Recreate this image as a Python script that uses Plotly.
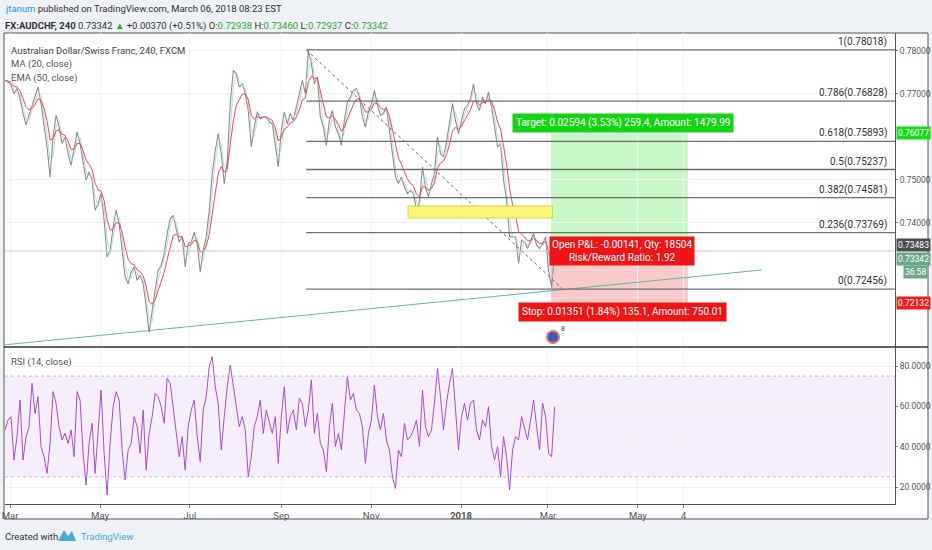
import pandas as pd
import plotly.graph_objects as go

# ---- data (approx. one value every ~2 days) ----
bar_start = "2017-02-25 12:00"
bar_end = "2018-03-05 12:00"

close = [
    0.7731, 0.7727, 0.7720, 0.7700, 0.7712, 0.7689, 0.7654, 0.7627, 0.7650, 0.7673,
    0.7692, 0.7716, 0.7677, 0.7630, 0.7576, 0.7506, 0.7599, 0.7650, 0.7623, 0.7584,
    0.7599, 0.7561, 0.7533, 0.7572, 0.7611, 0.7584, 0.7537, 0.7499, 0.7518, 0.7499,
    0.7429, 0.7444, 0.7468, 0.7406, 0.7320, 0.7336, 0.7390, 0.7429, 0.7398, 0.7336,
    0.7274, 0.7258, 0.7285, 0.7297, 0.7266, 0.7278, 0.7258, 0.7204, 0.7145, 0.7196,
    0.7243, 0.7289, 0.7301, 0.7328, 0.7375, 0.7409, 0.7417, 0.7382, 0.7355, 0.7367,
    0.7297, 0.7351, 0.7355, 0.7378, 0.7351, 0.7285, 0.7336, 0.7367, 0.7429, 0.7514,
    0.7568, 0.7607, 0.7561, 0.7491, 0.7545, 0.7677, 0.7754, 0.7747, 0.7716, 0.7723,
    0.7700, 0.7661, 0.7576, 0.7623, 0.7658, 0.7642, 0.7646, 0.7646, 0.7634, 0.7630,
    0.7584, 0.7530, 0.7615, 0.7658, 0.7630, 0.7654, 0.7638, 0.7669, 0.7696, 0.7731,
    0.7700, 0.7800, 0.7770, 0.7723, 0.7739, 0.7646, 0.7623, 0.7580, 0.7638, 0.7661,
    0.7623, 0.7607, 0.7580, 0.7638, 0.7681, 0.7692, 0.7708, 0.7712, 0.7692, 0.7646,
    0.7623, 0.7658, 0.7677, 0.7708, 0.7673, 0.7650, 0.7654, 0.7669, 0.7615, 0.7553,
    0.7506, 0.7491, 0.7506, 0.7483, 0.7468, 0.7475, 0.7468, 0.7430, 0.7448, 0.7530,
    0.7483, 0.7460, 0.7491, 0.7514, 0.7599, 0.7561, 0.7553, 0.7588, 0.7630, 0.7677,
    0.7638, 0.7607, 0.7638, 0.7665, 0.7673, 0.7689, 0.7723, 0.7677, 0.7661, 0.7692,
    0.7677, 0.7704, 0.7669, 0.7627, 0.7576, 0.7584, 0.7499, 0.7452, 0.7367, 0.7367,
    0.7367, 0.7305, 0.7359, 0.7355, 0.7340, 0.7359, 0.7375, 0.7347, 0.7340, 0.7351,
    0.7367, 0.7289, 0.7250, 0.7334,
]

rsi = [
    48.3, 53.2, 54.9, 33.4, 45.0, 63.1, 33.4, 45.0, 49.9, 71.4,
    56.5, 64.8, 40.0, 35.0, 26.8, 41.6, 67.3, 61.5, 49.9, 43.3,
    46.6, 41.6, 48.3, 35.0, 67.3, 63.1, 36.7, 21.0, 41.6, 51.6,
    26.8, 46.6, 68.1, 36.7, 16.0, 41.6, 59.8, 67.3, 63.1, 38.3,
    23.5, 38.3, 41.6, 54.9, 49.9, 36.7, 58.2, 28.4, 46.6, 54.9,
    66.4, 64.8, 59.8, 51.6, 73.9, 71.4, 59.8, 46.6, 35.0, 45.0,
    28.4, 49.9, 58.2, 63.1, 45.0, 32.6, 58.2, 64.8, 79.7, 84.6,
    69.7, 61.5, 38.3, 54.9, 69.7, 80.5, 69.7, 58.2, 49.9, 54.9,
    48.3, 25.1, 35.0, 49.9, 54.9, 63.1, 46.6, 58.2, 51.6, 46.6,
    54.9, 31.7, 54.9, 69.7, 46.6, 54.9, 58.2, 48.3, 64.0, 61.5,
    49.9, 58.2, 73.1, 46.6, 56.5, 41.6, 38.3, 27.6, 49.9, 61.5,
    40.0, 46.6, 38.3, 54.9, 74.7, 63.1, 66.4, 58.2, 56.5, 49.9,
    31.7, 46.6, 53.2, 70.6, 54.9, 48.3, 56.5, 43.3, 38.3, 25.1,
    19.3, 38.3, 35.0, 51.6, 43.3, 45.0, 48.3, 53.2, 40.0, 68.1,
    49.9, 45.0, 48.3, 61.5, 78.8, 64.8, 48.3, 61.5, 71.4, 78.8,
    56.5, 38.3, 54.9, 61.5, 53.2, 61.5, 63.1, 48.3, 43.3, 53.2,
    49.9, 59.8, 40.0, 33.4, 40.0, 25.1, 45.0, 35.0, 18.5, 38.3,
    45.0, 43.3, 54.9, 48.3, 43.3, 53.2, 63.1, 49.9, 38.3, 61.5,
    54.9, 36.7, 35.0, 59.8,
]

last_close = 0.73342

fib_ratios = ["1", "0.786", "0.618", "0.5", "0.382", "0.236", "0"]
fib_levels = [0.78018, 0.76828, 0.75893, 0.75237, 0.74581, 0.73769, 0.72456]
fib_start = "2017-09-18"
fib_diag_end = "2018-03-11"

trend_dates = ["2017-02-25 12:00", "2018-07-24"]
trend_prices = [0.7116, 0.7290]

zone_dates = ["2017-11-26", "2018-03-04"]
zone_prices = [0.7411, 0.7439]

entry_price = 0.73483
target_price = 0.76077
stop_price = 0.72132
position_dates = ["2018-03-03", "2018-06-04"]

tick_dates = ["2017-03-01", "2017-05-01", "2017-07-01", "2017-09-01", "2017-11-01",
              "2018-01-01", "2018-03-01", "2018-05-01", "2018-06-01"]
tick_text = ["Mar", "May", "Jul", "Sep", "Nov", "<b>2018</b>", "Mar", "May", "4"]

price_ticks = [0.74, 0.75, 0.77, 0.78]
rsi_ticks = [20, 40, 60, 80]

x_range = ["2017-02-25 12:00", "2018-10-22 12:00"]

FONT = "Roboto, Liberation Sans, sans-serif"

dates = pd.date_range(bar_start, bar_end, periods=len(close))
s = pd.Series(close, index=dates)
ma = s.rolling(2, min_periods=1).mean()
ema = s.ewm(span=5, adjust=False).mean()

W, H = 932, 550


def px(x):
    return x / W


def py(y):
    return 1 - y / H


fig = go.Figure()

# trend line
fig.add_trace(go.Scatter(x=trend_dates, y=trend_prices, mode="lines",
                         line=dict(color="#63b7a8", width=1), xaxis="x", yaxis="y"))
# price
fig.add_trace(go.Scatter(x=dates, y=close, mode="lines",
                         line=dict(color="#8d8d8d", width=1.1), xaxis="x", yaxis="y"))
fig.add_trace(go.Scatter(x=dates, y=ma, mode="lines",
                         line=dict(color="#a8d4dc", width=0.8), xaxis="x", yaxis="y"))
fig.add_trace(go.Scatter(x=dates, y=ema, mode="lines",
                         line=dict(color="#f04a4a", width=1), xaxis="x", yaxis="y"))
# fib diagonal
fig.add_trace(go.Scatter(x=[fib_start, fib_diag_end], y=[fib_levels[0], fib_levels[-1]],
                         mode="lines", line=dict(color="#666", width=1, dash="dot"),
                         xaxis="x", yaxis="y"))
# RSI
fig.add_trace(go.Scatter(x=dates, y=rsi, mode="lines",
                         line=dict(color="#a64fcf", width=1), xaxis="x2", yaxis="y2"))

shapes = []
# chart frame
shapes.append(dict(type="rect", xref="paper", yref="paper", x0=px(4), x1=px(928),
                   y0=py(519), y1=py(33), line=dict(color="#555", width=1),
                   fillcolor="white", layer="below"))
# position zones
shapes.append(dict(type="rect", xref="x", yref="y", x0=position_dates[0], x1=position_dates[1],
                   y0=entry_price, y1=target_price, fillcolor="#c8f7c8",
                   line=dict(width=0), layer="below"))
shapes.append(dict(type="rect", xref="x", yref="y", x0=position_dates[0], x1=position_dates[1],
                   y0=stop_price, y1=entry_price, fillcolor="#f9caca",
                   line=dict(width=0), layer="below"))
# support zone
shapes.append(dict(type="rect", xref="x", yref="y", x0=zone_dates[0], x1=zone_dates[1],
                   y0=zone_prices[0], y1=zone_prices[1], fillcolor="#f8f67a",
                   line=dict(color="#e0d040", width=1)))
# last price line
shapes.append(dict(type="line", xref="paper", yref="y", x0=px(5), x1=px(895),
                   y0=last_close, y1=last_close, line=dict(color="#c9c9c9", width=1)))
# fib levels
for lvl in fib_levels:
    shapes.append(dict(type="line", xref="x", yref="y", x0=fib_start, x1=x_range[1],
                       y0=lvl, y1=lvl, line=dict(color="#6e6e6e", width=1.3)))
# RSI band
shapes.append(dict(type="rect", xref="x2", yref="y2", x0=x_range[0], x1=x_range[1],
                   y0=25, y1=75, fillcolor="rgba(160,60,255,0.09)", line=dict(width=0),
                   layer="below"))
for lv in (25, 75):
    shapes.append(dict(type="line", xref="x2", yref="y2", x0=x_range[0], x1=x_range[1],
                       y0=lv, y1=lv, line=dict(color="#c6bcd0", width=1, dash="dot")))
# pane separator
shapes.append(dict(type="line", xref="paper", yref="paper", x0=px(4), x1=px(928),
                   y0=py(347), y1=py(347), line=dict(color="#333", width=1.5)))
# event marker
shapes.append(dict(type="circle", xref="paper", yref="paper", x0=px(547), x1=px(559),
                   y0=py(343), y1=py(331), fillcolor="#3b5bb8", line=dict(color="#e57373", width=2)))
# footer logo
shapes.append(dict(type="path", xref="paper", yref="paper",
                   path="M %f %f L %f %f L %f %f L %f %f L %f %f Z" % (
                       px(58), py(541), px(64), py(530), px(68), py(536),
                       px(72), py(531), px(76), py(541)),
                   fillcolor="#4aa8de", line=dict(width=0)))

ann = []


def text(x, y, t, size=10, color="#333", anchor="left", yanchor="middle", **kw):
    ann.append(dict(xref="paper", yref="paper", x=px(x), y=py(y), text=t, showarrow=False,
                    xanchor=anchor, yanchor=yanchor, font=dict(family=FONT, size=size, color=color), **kw))


G = "#2ea62e"
text(3, 9, "<span style='color:#2196f3'>jtanum</span> published on TradingView.com, March 06, 2018 08:23 EST", 9.5)
text(3, 26, "<b>FX:AUDCHF, 240</b> 0.73342 <span style='color:%s'>▲</span> +0.00370 (+0.51%%) "
     "O:<span style='color:%s'>0.72938</span> H:<span style='color:%s'>0.73460</span> "
     "L:<span style='color:%s'>0.72937</span> C:<span style='color:%s'>0.73342</span>" % (G, G, G, G, G), 9.5)
text(9, 50, "Australian Dollar/Swiss Franc, 240, FXCM", 9.5, "#444")
text(9, 64, "MA (20, close)", 9.5, "#555")
text(9, 78, "EMA (50, close)", 9.5, "#555")
text(9, 362, "RSI (14, close)", 9.5, "#555")
text(3, 536, "Created with", 9.5, "#333")
text(79, 536, "TradingView", 9.5, "#4aa8de")
text(559, 329, "8", 7, "#333")

# fib labels
for r, lvl in zip(fib_ratios, fib_levels):
    ann.append(dict(xref="paper", yref="y", x=px(889), y=lvl, yanchor="bottom", xanchor="right",
                    text="%s(%.5f)" % (r, lvl), showarrow=False,
                    font=dict(family=FONT, size=10, color="#333")))

# right axis price tags (target / stop at their level, the stacked ones at fixed rows)
for val, bg in [(target_price, "#11dd11"), (stop_price, "#f31c1c")]:
    ann.append(dict(xref="paper", yref="y", x=px(896), y=val, xanchor="left", yanchor="middle",
                    text="%.5f" % val, showarrow=False, bgcolor=bg, borderpad=1,
                    font=dict(family=FONT, size=8.5, color="white")))
text(896, 245, "%.5f" % entry_price, 8.5, "white", bgcolor="#4d4d4d", borderpad=1)
text(896, 259, "%.5f" % last_close, 8.5, "white", bgcolor="#6aa886", borderpad=1)
text(928, 272, "36:58", 8.5, "white", anchor="right", bgcolor="#6aa886", borderpad=1)

# position tool labels
text(623, 123, "Target: 0.02594 (3.53%) 259.4, Amount: 1479.99", 10, "white", anchor="center",
     bgcolor="#12d412", borderpad=3)
text(622, 251, "Open P&L: -0.00141, Qty: 18504<br>Risk/Reward Ratio: 1.92", 10, "white",
     anchor="center", bgcolor="#f01515", borderpad=2)
text(622, 312, "Stop: 0.01351 (1.84%) 135.1, Amount: 750.01", 10, "white", anchor="center",
     bgcolor="#f01515", borderpad=3)

axis_font = dict(family=FONT, size=8.5, color="#555")
fig.update_layout(
    width=W, height=H,
    margin=dict(l=0, r=0, t=0, b=0),
    paper_bgcolor="#eef1f5",
    plot_bgcolor="white",
    showlegend=False,
    hovermode=False,
    shapes=shapes,
    annotations=ann,
    xaxis=dict(domain=[px(5), px(895)], range=x_range, tickvals=tick_dates,
               showticklabels=False, showgrid=True, gridcolor="#f0f2f6", zeroline=False,
               anchor="y", automargin=False),
    xaxis2=dict(domain=[px(5), px(895)], range=x_range, tickvals=tick_dates, ticktext=tick_text,
                showgrid=True, gridcolor="#f0f2f6", anchor="y2", showline=True,
                linecolor="#555", ticks="outside", ticklen=3, tickcolor="#888",
                tickfont=dict(family=FONT, size=9.5, color="#555"), matches="x", automargin=False),
    yaxis=dict(domain=[py(347), py(33)], range=[0.71109, 0.78412], side="right",
               tickvals=price_ticks, tickformat=".5f", tickfont=axis_font,
               showgrid=True, gridcolor="#f0f2f6", showline=True, linecolor="#555",
               ticks="outside", ticklen=2, tickcolor="#888", zeroline=False, anchor="x",
               automargin=False),
    yaxis2=dict(domain=[py(504), py(347)], range=[11.57, 89.42], side="right",
                tickvals=rsi_ticks, tickformat=".4f", tickfont=axis_font,
                showgrid=True, gridcolor="#f0f2f6", showline=True, linecolor="#555",
                ticks="outside", ticklen=2, tickcolor="#888", zeroline=False, anchor="x2",
                automargin=False),
)

# drop the default page margin so the figure sits at the window's top-left corner
fig.write_html("out.html", config={"displayModeBar": False},
               post_script="document.body.style.margin='0';"
                           "document.body.style.overflow='hidden';")
